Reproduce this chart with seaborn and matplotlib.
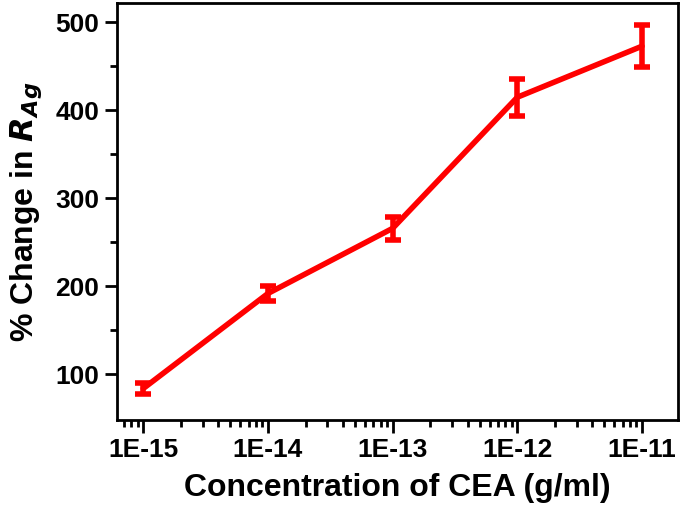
import seaborn as sns
import pandas as pd
import numpy as np
import matplotlib.pyplot as plt
from matplotlib.ticker import LogLocator, NullFormatter, FixedLocator

# values
conc = [1e-15, 1e-14, 1e-13, 1e-12, 1e-11]
conc_labels = ['1E-15', '1E-14', '1E-13', '1E-12', '1E-11']
change = [84, 192, 266, 415, 473]
err = [6, 9, 13, 21, 24]

sns.set_style('ticks')
plt.rcParams['font.family'] = ['Liberation Sans', 'DejaVu Sans']
plt.rcParams['font.weight'] = 'bold'
plt.rcParams['text.color'] = 'black'
plt.rcParams['axes.labelcolor'] = 'black'
plt.rcParams['xtick.color'] = 'black'
plt.rcParams['ytick.color'] = 'black'

df = pd.DataFrame({'conc': conc, 'change': change, 'err': err})

fig = plt.figure(figsize=(6.85, 5.13), dpi=100)
ax = fig.add_axes([0.171, 0.181, 0.819, 0.813])

sns.lineplot(data=df, x='conc', y='change', color='#ff0000', linewidth=4, ax=ax)
ax.errorbar(df['conc'], df['change'], yerr=df['err'], fmt='none',
            ecolor='#ff0000', elinewidth=4, capsize=6, capthick=4)

ax.set_xscale('log')
ax.set_xlim(10**-15.21, 10**-10.71)
ax.set_ylim(48, 522)
ax.xaxis.set_major_locator(FixedLocator(conc))
ax.set_xticks(conc)
ax.set_xticklabels(conc_labels)
ax.xaxis.set_minor_locator(LogLocator(base=10, subs=np.arange(2, 10)))
ax.xaxis.set_minor_formatter(NullFormatter())
ax.set_yticks([100, 200, 300, 400, 500])
ax.set_yticks([150, 250, 350, 450], minor=True)

for s in ax.spines.values():
    s.set_linewidth(2)
    s.set_color('black')
ax.tick_params(which='major', length=9, width=2, direction='out',
               labelsize=19, pad=4)
ax.tick_params(which='minor', length=5, width=2, direction='out')

ax.set_xlabel('Concentration of CEA (g/ml)', fontsize=23, fontweight='bold', labelpad=8)
ax.set_ylabel(r'% Change in $\mathbfit{R}_{Ag}$', fontsize=23, fontweight='bold', labelpad=8)

fig.savefig('out.png', dpi=100)
